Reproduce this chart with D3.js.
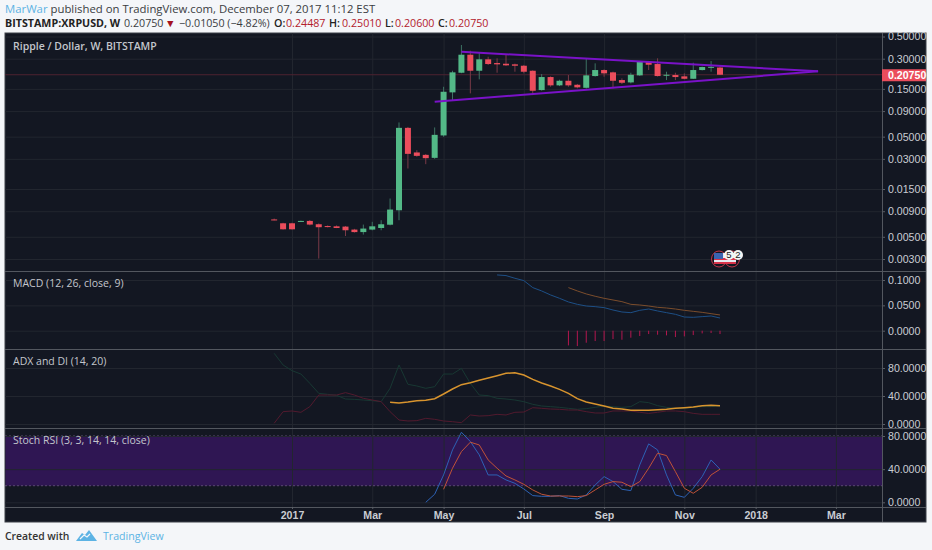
<!DOCTYPE html>
<html>
<head>
<meta charset="utf-8">
<style>
  html, body { margin: 0; padding: 0; background: #f4f6f9; overflow: hidden; }
  svg { display: block; }
  .axis text { font-family: "Liberation Sans", Arial, sans-serif; font-size: 10.6px; fill: #c9ccd2; }
  .head { font-family: "Open Sans", sans-serif; font-size: 11.35px; fill: #3a3d42; }
  .head2 { font-size: 10.7px; }
</style>
<script src="https://cdnjs.cloudflare.com/ajax/libs/d3/7.8.5/d3.min.js"></script>
</head>
<body>
<div id="the_chart"></div>
<script>
// weekly bars, first one is 2016-12-19
var weeks = ["2016-12-19","2016-12-26","2017-01-02","2017-01-09","2017-01-16","2017-01-23","2017-01-30","2017-02-06","2017-02-13","2017-02-20","2017-02-27",
  "2017-03-06","2017-03-13","2017-03-20","2017-03-27","2017-04-03","2017-04-10","2017-04-17","2017-04-24","2017-05-01","2017-05-08","2017-05-15","2017-05-22","2017-05-29",
  "2017-06-05","2017-06-12","2017-06-19","2017-06-26","2017-07-03","2017-07-10","2017-07-17","2017-07-24","2017-07-31","2017-08-07","2017-08-14","2017-08-21","2017-08-28",
  "2017-09-04","2017-09-11","2017-09-18","2017-09-25","2017-10-02","2017-10-09","2017-10-16","2017-10-23","2017-10-30","2017-11-06","2017-11-13","2017-11-20","2017-11-27","2017-12-04"];

var opens = [.00745,.00682,.00682,.0071,.0072,.00667,.0064,.00636,.00632,.0059,.00557,.0059,.00612,.0066,.0092,.0612,.03476,.03289,.0307,.0514,.1384,.2173,.3289,.2275,.2958,.2716,.2673,.2636,.2553,.2275,.1459,.1968,.1626,.1807,.1648,.1537,.2014,.2312,.2193,.1837,.174,.2046,.2799,.2655,.205,.2061,.2,.1892,.2312,.246,.24487];
var highs = [.0076,.0069,.0069,.00725,.00735,.0068,.0065,.0065,.0064,.006,.00662,.00705,.00732,.01205,.0693,.0625,.0366,.0335,.0618,.1574,.2275,.4111,.3606,.3444,.314,.3027,.3319,.268,.26,.23,.2109,.2,.185,.2061,.168,.3027,.2698,.235,.223,.191,.2173,.285,.285,.3027,.2224,.2173,.2143,.2735,.25,.2845,.2501];
var lows = [.0073,.0059,.0059,.00705,.0065,.00303,.0062,.0061,.00509,.0055,.00526,.0058,.00581,.0065,.00732,.02404,.0315,.02655,.03,.0498,.1159,.215,.1352,.1867,.2594,.2173,.254,.2224,.2143,.13,.144,.1574,.1599,.1574,.1517,.151,.199,.1982,.1517,.1675,.17,.202,.2312,.199,.1837,.1837,.1867,.188,.229,.2224,.206];
var closes = [.00741,.00594,.00594,.0072,.00662,.00623,.00625,.00612,.00581,.00557,.00604,.00636,.00667,.00935,.0612,.03365,.03214,.03048,.0521,.1403,.2193,.3289,.2275,.2958,.2655,.2636,.2576,.2553,.2224,.1436,.1968,.1626,.1807,.1626,.1553,.2046,.2312,.2143,.1807,.1726,.2075,.2799,.2612,.2014,.2075,.1968,.1892,.2312,.2478,.249,.2075];
var lastPrice = 0.2075;

// trend lines of the triangle: [date, price]
var upperTrend = [["2017-05-15", .3524], ["2018-02-19", .2244]];
var lowerTrend = [["2017-04-24", .1114], ["2018-02-19", .2244]];

// MACD, starts 2017-06-12
var macdLine = [.11,.1087,.1034,.0988,.085,.0784,.0705,.0639,.0567,.052,.0487,.0474,.0455,.0408,.0369,.0356,.0402,.0428,.0389,.0356,.0323,.027,.0264,.0277,.029,.025];
// signal and histogram start 2017-08-07
var macdSignal = [.085,.0784,.0725,.0679,.0639,.0606,.0573,.052,.0507,.0487,.0461,.0448,.0428,.0402,.0382,.0362,.0336,.031];
var macdHist = [-.029,-.0303,-.0237,-.0204,-.0204,-.0165,-.0178,-.0138,-.0105,-.0066,-.0079,-.0092,-.0125,-.0112,-.0086,-.0053,-.0046,-.0066];

// ADX starts 2017-03-20, both DI lines start at the first bar
var adxLine = [31,30,31.4,33.3,33.8,36.2,42.9,50,56.2,59,62.4,65.7,69,72.4,73.3,70,63.8,58.6,54.3,49.5,43.8,36.2,31.4,28.6,25.7,22.4,21.4,19.5,19.5,19.5,20.5,21,22.4,23.3,24.3,26.2,26.7,26.2];
var diPlus = [101,84.3,76.2,71.4,58.1,43.8,42.4,41,35.7,35.2,34.3,33.3,31.9,51,84.3,56.7,54.3,51,53.3,71.4,71.4,79.5,58.1,41.4,40.5,36.7,35.7,34.3,31.9,28.1,25.7,24.8,23.8,22.4,21,21.9,23.8,25.7,24.8,23.8,24.8,31.9,30.5,26.2,23.8,22.4,22.4,23.8,24.8,24.8,25.7];
var diMinus = [1,17.6,18.6,16.7,24.8,41.4,41.4,41.4,44.8,41.4,36.7,34.3,31.9,17.6,5.7,4.3,4.8,8.1,6.7,4.3,3.3,1.9,12.9,11.4,11.9,13.8,12.9,16.7,17.1,23.3,22.4,21.4,21,20,20,17.6,15.7,15.7,18.6,18.6,18.6,16.7,15.2,16.7,18.6,18.6,17.6,15.2,13.8,13.8,13.8];

// stoch rsi, both end on the last bar
var stochK = [0,9.7,33,63.2,84.5,73.3,57.2,33,33,27,22.9,16.1,8.1,7.2,7.2,8.1,4.8,4,8.9,20.9,31,25,15.7,14.1,45.1,70.5,63.2,33,8.9,6,16.9,31,51.1,39.9];
var stochD = [15.7,41.1,61.2,72.5,69.2,51.1,41.1,31.8,27,21.7,14.9,9.7,7.6,7.6,7.6,6.8,8.1,14.9,21.7,25,24.2,18.9,25,41.1,59.2,56.4,37,16.9,10.9,18.1,33,39.9];

// axes
var priceTicks = [0.5,0.3,0.15,0.09,0.05,0.03,0.015,0.009,0.005,0.003];
var macdTicks = [0.1,0.05,0];
var adxTicks = [80,40,0];
var stochTicks = [80,40,0];
var stochBand = [80,20];
var timeTicks = ["2017-01-02","2017-03-06","2017-05-01","2017-07-03","2017-09-04","2017-11-06","2018-01-01","2018-03-05"];
var timeLabels = ["2017","Mar","May","Jul","Sep","Nov","2018","Mar"];

var w = 932, h = 550;
var left = 5, right = 882, edge = 926; // chart frame
var top_ = 33, bottom = 507, frameBottom = 522;
var bg = "#131722", gridCol = "#22262f", sepCol = "#53575f";
var green = "#53b987", red = "#eb4d5c";
var parse = d3.utcParse("%Y-%m-%d");
var dates = weeks.map(parse);

var svg = d3.select("#the_chart").append("svg").attr("width", w).attr("height", h);

// header
var head = svg.append("text").attr("class", "head").attr("x", 5).attr("y", 13);
head.append("tspan").style("fill", "#5cb3e4").text("MarWar");
head.append("tspan").text(" published on TradingView.com, December 07, 2017 11:12 EST");

var head2 = svg.append("text").attr("class", "head head2").attr("x", 5).attr("y", 27);
head2.append("tspan").attr("font-weight", 700).style("fill", "#222").text("BITSTAMP:XRPUSD, W");
head2.append("tspan").attr("x", 124).text("0.20750");
head2.append("tspan").attr("x", 165).style("fill", "#a5121e").text("▼");
head2.append("tspan").attr("x", 179).text("−0.01050 (−4.82%)");
[["O:", 274, "0.24487", 286], ["H:", 329, "0.25010", 342], ["L:", 385, "0.20600", 395], ["C:", 438, "0.20750", 449]].forEach(function(d) {
  head2.append("tspan").attr("x", d[1]).attr("font-weight", 600).style("fill", "#222").text(d[0]);
  head2.append("tspan").attr("x", d[3]).style("fill", "#b3202c").text(d[2]);
});

// chart frame
svg.append("rect").attr("x", left).attr("y", top_).attr("width", edge - left).attr("height", frameBottom - top_)
  .attr("fill", bg).attr("stroke", "#3c4048").attr("stroke-width", 1);

var clip = svg.append("clipPath").attr("id", "plot").append("rect")
  .attr("x", left).attr("y", top_).attr("width", right - left).attr("height", bottom - top_);

// x scale: week spacing taken from the ticks
var xscale = d3.scaleUtc().domain([parse("2017-01-02"), parse("2017-12-04")]).range([292, 720]);

var priceY = d3.scaleLog().domain([0.5, 0.003]).range([36.5, 259]);
var macdY = d3.scaleLinear().domain([0.1, 0]).range([280, 330.7]);
var adxY = d3.scaleLinear().domain([80, 0]).range([368, 424]);
var stochY = d3.scaleLinear().domain([80, 0]).range([436, 502.3]);

var panes = [
  {y: priceY, ticks: priceTicks, fmt: d3.format(".5f")},
  {y: macdY, ticks: macdTicks, fmt: d3.format(".4f")},
  {y: adxY, ticks: adxTicks, fmt: d3.format(".4f")},
  {y: stochY, ticks: stochTicks, fmt: d3.format(".4f")}
];

// stoch band goes under the grid
svg.append("rect").attr("x", left + 0.5).attr("width", right - left - 0.5)
  .attr("y", stochY(stochBand[0])).attr("height", stochY(stochBand[1]) - stochY(stochBand[0]))
  .attr("fill", "#2f1653");

// vertical grid
svg.append("g").attr("transform", "translate(0," + bottom + ")")
  .call(d3.axisBottom(xscale).tickValues(timeTicks.map(parse)).tickSize(-(bottom - top_)).tickFormat(""))
  .call(function(g) { g.select(".domain").remove(); g.selectAll("line").attr("stroke", gridCol); });

stochBand.forEach(function(v) {
  svg.append("line").attr("x1", left).attr("x2", right).attr("y1", stochY(v)).attr("y2", stochY(v))
    .attr("stroke", "#5c4a72").attr("stroke-dasharray", "2,2");
});

// horizontal grid and the right axes
panes.forEach(function(p) {
  svg.append("g").attr("transform", "translate(" + right + ",0)")
    .call(d3.axisLeft(p.y).tickValues(p.ticks).tickSize(right - left).tickFormat(""))
    .call(function(g) { g.select(".domain").remove(); g.selectAll("line").attr("stroke", gridCol); });
  svg.append("g").attr("class", "axis").attr("transform", "translate(" + right + ",0)")
    .call(d3.axisRight(p.y).tickValues(p.ticks).tickSize(3).tickPadding(3).tickFormat(p.fmt))
    .call(function(g) { g.select(".domain").remove(); g.selectAll("line").attr("stroke", "#5a5e66"); });
});

var plot = svg.append("g").attr("clip-path", "url(#plot)");

// last price line
plot.append("line").attr("x1", left).attr("x2", right).attr("y1", priceY(lastPrice)).attr("y2", priceY(lastPrice))
  .attr("stroke", "#4e2230");

// candles
var candles = plot.selectAll(".candle").data(dates).enter().append("g").attr("class", "candle");
candles.append("line")
  .attr("x1", function(d) { return xscale(d); })
  .attr("x2", function(d) { return xscale(d); })
  .attr("y1", function(d, i) { return priceY(highs[i]); })
  .attr("y2", function(d, i) { return priceY(lows[i]); })
  .attr("stroke", function(d, i) { return closes[i] >= opens[i] ? "#3d7263" : "#7a3a47"; });
candles.append("rect")
  .attr("x", function(d) { return xscale(d) - 3; })
  .attr("width", 6)
  .attr("y", function(d, i) { return priceY(Math.max(opens[i], closes[i])); })
  .attr("height", function(d, i) { return Math.max(1, priceY(Math.min(opens[i], closes[i])) - priceY(Math.max(opens[i], closes[i]))); })
  .attr("fill", function(d, i) { return closes[i] >= opens[i] ? green : red; });

// triangle
[upperTrend, lowerTrend].forEach(function(t) {
  plot.append("line")
    .attr("x1", xscale(parse(t[0][0]))).attr("y1", priceY(t[0][1]))
    .attr("x2", xscale(parse(t[1][0]))).attr("y2", priceY(t[1][1]))
    .attr("stroke", "#7a12c8").attr("stroke-width", 2);
});

function drawLine(values, scale, color, width) {
  // a series always ends on the last bar
  var ds = dates.slice(dates.length - values.length);
  var line = d3.line().x(function(d, i) { return xscale(ds[i]); }).y(function(d) { return scale(d); });
  plot.append("path").attr("d", line(values)).attr("fill", "none").attr("stroke", color).attr("stroke-width", width);
}

// macd
var histDates = dates.slice(dates.length - macdHist.length);
plot.selectAll(".hist").data(macdHist).enter().append("rect").attr("class", "hist")
  .attr("x", function(d, i) { return xscale(histDates[i]) - 0.5; })
  .attr("width", 1)
  .attr("y", macdY(0))
  .attr("height", function(d) { return macdY(d) - macdY(0); })
  .attr("fill", "#b3174f");
drawLine(macdLine, macdY, "#1d4f86", 1);
drawLine(macdSignal, macdY, "#7b4d2c", 1);

// adx
drawLine(diPlus, adxY, "#183833", 1);
drawLine(diMinus, adxY, "#521a2e", 1);
drawLine(adxLine, adxY, "#d8942e", 1.5);

// stoch rsi
drawLine(stochK, stochY, "#2d62b5", 1);
drawLine(stochD, stochY, "#bf5238", 1);

// pane separators
[271.5, 349.5, 428.5, 507.5].forEach(function(y) {
  svg.append("line").attr("x1", left).attr("x2", edge).attr("y1", y).attr("y2", y).attr("stroke", sepCol);
});
svg.append("line").attr("x1", right + 0.5).attr("x2", right + 0.5).attr("y1", top_).attr("y2", frameBottom).attr("stroke", sepCol);

// time axis
svg.append("g").attr("class", "axis").attr("transform", "translate(0," + bottom + ")")
  .call(d3.axisBottom(xscale).tickValues(timeTicks.map(parse)).tickSize(2).tickPadding(2)
    .tickFormat(function(d, i) { return timeLabels[i]; }))
  .call(function(g) { g.select(".domain").remove(); g.selectAll("line").attr("stroke", "#5a5e66"); })
  .selectAll("text").attr("font-weight", 700);

// last price label
svg.append("rect").attr("x", right).attr("y", priceY(lastPrice) - 5.5).attr("width", edge - right).attr("height", 12).attr("fill", red);
svg.append("text").attr("x", 888).attr("y", priceY(lastPrice) + 4)
  .attr("font-family", "Liberation Sans, Arial").attr("font-size", 10.6).attr("font-weight", 700).attr("fill", "#fff").text("0.20750");

// pane titles
[["Ripple / Dollar, W, BITSTAMP", 50, 600], ["MACD (12, 26, close, 9)", 287, 400], ["ADX and DI (14, 20)", 365, 400], ["Stoch RSI (3, 3, 14, 14, close)", 444, 400]].forEach(function(d) {
  svg.append("text").attr("x", 13).attr("y", d[1]).attr("font-family", "Open Sans, sans-serif")
    .attr("font-size", 10.5).attr("font-weight", d[2]).attr("fill", "#c3c6cc").text(d[0]);
});

// earnings flag bubble
var ev = svg.append("g").attr("transform", "translate(719,259)");
ev.append("ellipse").attr("rx", 7.5).attr("ry", 8).attr("cx", 0).attr("fill", bg).attr("stroke", "#c2344a");
ev.append("ellipse").attr("rx", 7.5).attr("ry", 8).attr("cx", 13).attr("fill", bg).attr("stroke", "#c2344a");
ev.append("rect").attr("x", -5).attr("y", -6).attr("width", 22).attr("height", 11).attr("fill", "#e8e8ee");
ev.append("rect").attr("x", -5).attr("y", -1).attr("width", 22).attr("height", 2).attr("fill", "#d9334a");
ev.append("rect").attr("x", -5).attr("y", 3).attr("width", 22).attr("height", 2).attr("fill", "#d9334a");
ev.append("rect").attr("x", -5).attr("y", -6).attr("width", 9).attr("height", 6).attr("fill", "#3a64b0");
[[10, "5"], [19, "2"]].forEach(function(d) {
  ev.append("circle").attr("cx", d[0]).attr("cy", -4).attr("r", 5).attr("fill", "#f4f4f4");
  ev.append("text").attr("x", d[0]).attr("y", -0.6).attr("text-anchor", "middle").attr("font-family", "Liberation Sans, Arial")
    .attr("font-size", 9.5).attr("fill", "#222").text(d[1]);
});

// footer
svg.append("text").attr("x", 5).attr("y", 540).attr("font-family", "Open Sans, sans-serif").attr("font-size", 10.4)
  .attr("font-weight", 600).attr("fill", "#333").text("Created with");
svg.append("path").attr("d", "M76,541 L82,533 L85,535 L89,530 L97,541 Z").attr("fill", "#5cb3e4");
svg.append("path").attr("d", "M80,539 L84,535 L87,537 L90,534").attr("fill", "none").attr("stroke", "#f4f6f9").attr("stroke-width", 1.2);
svg.append("text").attr("x", 103).attr("y", 540).attr("font-family", "Open Sans, sans-serif").attr("font-size", 10.6)
  .attr("fill", "#5cb3e4").text("TradingView");
</script>
</body>
</html>
